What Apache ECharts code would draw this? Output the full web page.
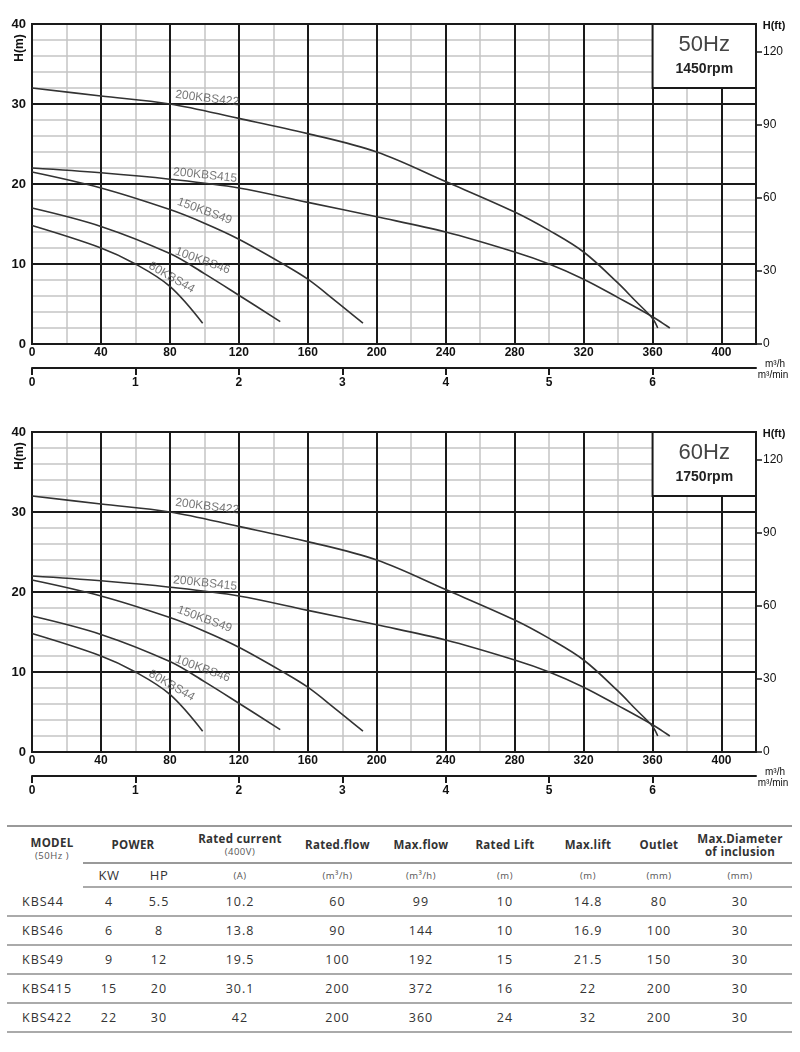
<!DOCTYPE html>
<html lang="en">
<head>
<meta charset="UTF-8">
<script src="https://cdn.jsdelivr.net/npm/echarts@6/dist/echarts.min.js"></script>
<title>KBS pump curves</title>
<style>
    body { margin: 0; background: #fff; }
    #chart { width: 800px; height: 810px; }
    #specTable {
        position: absolute; left: 7px; top: 825px; width: 785px;
        border-collapse: collapse; table-layout: fixed;
        font-family: "Open Sans", "DejaVu Sans", sans-serif; color: #333;
        border-top: 2px solid #999;
    }
    #specTable th, #specTable td { text-align: center; padding: 0; letter-spacing: 1px; }
    #specTable th { font-size: 11.5px; font-weight: bold; line-height: 13px; height: 35px; border-bottom: 2px solid #999; letter-spacing: 0.3px; }
    #specTable th.model { border-bottom: none; }
    #specTable th small { display: block; font-size: 9.5px; font-weight: normal; color: #555; letter-spacing: 0.5px; }
    #specTable tr.units td { height: 22px; font-size: 9.5px; color: #555; border-bottom: 2px solid #aaa; letter-spacing: 0.5px; }
    #specTable tr.units td.big { font-size: 13px; color: #333; }
    #specTable tr.row td { height: 27px; font-size: 12.5px; border-bottom: 2px solid #aaa; }
    #specTable td.name { text-align: left; padding-left: 15px; }
</style>
</head>
<body>
<div id="chart"></div>
<table id="specTable"></table>
<script>

    // Q-H curves, [flow m3/h, head m]
    var curveNames = ['200KBS422', '200KBS415', '150KBS49', '100KBS46', '80KBS44'];
    var curve422 = [[0, 32], [40, 31], [80, 30], [120, 28.2], [160, 26.3], [200, 24.0], [240, 20.3], [280, 16.5], [300, 14.2], [320, 11.5], [340, 7.6], [350, 5.4], [360, 3.2], [363, 2.0]];
    var curve415 = [[0, 22], [40, 21.4], [80, 20.6], [120, 19.5], [160, 17.7], [200, 15.9], [240, 14.0], [280, 11.5], [300, 10.0], [320, 8.1], [340, 5.8], [360, 3.4], [370, 2.0]];
    var curve49 = [[0, 21.5], [40, 19.5], [80, 16.8], [100, 15.1], [120, 13.1], [146.5, 9.9], [160, 8.1], [176, 5.4], [192, 2.6]];
    var curve46 = [[0, 17], [40, 14.7], [80, 11.3], [100, 8.8], [120, 6.1], [144, 2.8]];
    var curve44 = [[0, 14.8], [40, 12.0], [60, 10.0], [80, 7.2], [99, 2.6]];
    var curves = [curve422, curve415, curve49, curve46, curve44];

    var panelHz = ['50Hz', '60Hz'];
    var panelRpm = ['1450rpm', '1750rpm'];

    // table data
    var tModel = ['KBS44', 'KBS46', 'KBS49', 'KBS415', 'KBS422'];
    var tKw = ['4', '6', '9', '15', '22'];
    var tHp = ['5.5', '8', '12', '20', '30'];
    var tCurrent = ['10.2', '13.8', '19.5', '30.1', '42'];
    var tRatedFlow = ['60', '90', '100', '200', '200'];
    var tMaxFlow = ['99', '144', '192', '372', '360'];
    var tRatedLift = ['10', '10', '15', '16', '24'];
    var tMaxLift = ['14.8', '16.9', '21.5', '22', '32'];
    var tOutlet = ['80', '100', '150', '200', '200'];
    var tDiameter = ['30', '30', '30', '30', '30'];

    // label placement on the curves (data coords + rotation)
    var labelPos = [[101.6, 30.7, -7], [100.4, 21.1, -6], [100.1, 16.6, -20], [99, 10.4, -20], [81, 8.3, -30]];

    var FT = 3.28084;
    var gridTops = [24, 432];
    var PLOT_W = 724, PLOT_H = 320;
    var black = '#1a1a1a';
    var labelFont = {fontSize: 12, fontWeight: 'bold', color: '#111', fontFamily: 'Arial'};

    var Chart_Main = echarts.init(document.getElementById('chart'));

    var grids = [], xAxes = [], yAxes = [], series = [], graphics = [];

    function addX(o) { o.axisLine = Object.assign({onZero: false}, o.axisLine); xAxes.push(o); return xAxes.length - 1; }
    function addY(o) { o.axisLine = Object.assign({onZero: false}, o.axisLine); yAxes.push(o); return yAxes.length - 1; }

    for (var g = 0; g < 2; g++) {
        var gTop = gridTops[g];
        var gMain = grids.length;
        grids.push({left: 32, top: gTop, width: PLOT_W, height: PLOT_H, show: true, borderColor: black, borderWidth: 2});
        // ft scale: 120 ft sits below the 40 m top
        var ftOff = (40 - 120 / FT) * PLOT_H / 40;
        var gFt = grids.length;
        grids.push({left: 32, top: gTop + ftOff, width: PLOT_W, height: PLOT_H - ftOff});
        // m3/min ticks 0..6 (= 0..360 m3/h)
        var gMin = grids.length;
        grids.push({left: 32, top: gTop, width: PLOT_W * 360 / 420, height: PLOT_H});

        var xMain = addX({
            gridIndex: gMain, type: 'value', position: 'bottom', min: 0, max: 420, interval: 40, z: 1,
            axisLine: {show: true, lineStyle: {color: black, width: 2}},
            axisTick: {show: false},
            axisLabel: Object.assign({margin: 3, formatter: function (v) { return v > 400 ? '' : v; }}, labelFont),
            splitLine: {lineStyle: {color: black, width: 2}}
        });
        addX({
            gridIndex: gMain, type: 'value', position: 'top', min: 0, max: 420, interval: 20, z: 0,
            axisLine: {show: false}, axisTick: {show: false}, axisLabel: {show: false},
            splitLine: {lineStyle: {color: '#c4c4c4', width: 1.5}}
        });
        addX({
            gridIndex: gMain, type: 'value', position: 'bottom', offset: 24, min: 0, max: 420, z: 1,
            axisLine: {show: true, lineStyle: {color: black, width: 2}},
            axisTick: {show: false}, axisLabel: {show: false}, splitLine: {show: false}
        });
        var yMain = addY({
            gridIndex: gMain, type: 'value', position: 'left', min: 0, max: 40, interval: 10, z: 1,
            axisLine: {show: false}, axisTick: {show: false},
            axisLabel: Object.assign({margin: 6}, labelFont, {fontSize: 13}),
            splitLine: {lineStyle: {color: black, width: 2}}
        });
        addY({
            gridIndex: gMain, type: 'value', position: 'left', min: 0, max: 40, interval: 2, z: 0,
            axisLine: {show: false}, axisTick: {show: false}, axisLabel: {show: false},
            splitLine: {lineStyle: {color: '#c4c4c4', width: 1.5}}
        });

        addX({gridIndex: gFt, type: 'value', show: false, min: 0, max: 420});
        addY({
            gridIndex: gFt, type: 'value', position: 'right', min: 0, max: 120, interval: 30, z: 1,
            axisLine: {show: false},
            axisTick: {show: true, length: 6, lineStyle: {color: black, width: 1.5}},
            axisLabel: {margin: 7, fontSize: 12, color: '#111', fontFamily: 'Arial'},
            splitLine: {show: false}
        });

        addX({
            gridIndex: gMin, type: 'value', position: 'bottom', offset: 24, min: 0, max: 6, interval: 1, z: 1,
            axisLine: {show: false},
            axisTick: {show: true, length: 7, lineStyle: {color: black, width: 2}},
            axisLabel: Object.assign({margin: 9}, labelFont),
            splitLine: {show: false}
        });
        addY({gridIndex: gMin, type: 'value', show: false, min: 0, max: 40});

        for (var i = 0; i < curves.length; i++) {
            var s = {
                name: curveNames[i] + (g ? ' 60Hz' : ' 50Hz'),
                type: 'line', xAxisIndex: xMain, yAxisIndex: yMain,
                data: curves[i], smooth: 0.35, showSymbol: false, z: 5,
                lineStyle: {color: '#333', width: 1.6}
            };
            if (i === 0) {
                s.markArea = {
                    silent: true,
                    itemStyle: {color: '#fff', opacity: 1, borderColor: black, borderWidth: 2},
                    label: {
                        show: true, position: 'inside',
                        formatter: '{a|' + panelHz[g] + '}\n{b|' + panelRpm[g] + '}',
                        rich: {
                            a: {fontSize: 22, color: '#444', fontFamily: 'Arial', lineHeight: 26},
                            b: {fontSize: 14, color: '#222', fontWeight: 'bold', fontFamily: 'Arial', lineHeight: 22}
                        }
                    },
                    data: [[{coord: [360, 32]}, {coord: [420, 40]}]]
                };
            }
            series.push(s);
        }

        var labelData = [];
        for (var k = 0; k < curveNames.length; k++) {
            labelData.push({
                value: [labelPos[k][0], labelPos[k][1]],
                label: {show: true, position: 'inside', formatter: curveNames[k], rotate: labelPos[k][2],
                    color: '#555', fontSize: 12, fontFamily: 'Arial'}
            });
        }
        series.push({
            type: 'scatter', xAxisIndex: xMain, yAxisIndex: yMain, symbolSize: 1, silent: true, z: 6,
            itemStyle: {color: 'rgba(0,0,0,0)'},
            data: labelData
        });

        graphics.push({type: 'text', x: 20, y: gTop + 24, rotation: Math.PI / 2,
            style: {text: 'H(m)', font: 'bold 12px Arial', fill: '#111', textAlign: 'center', textVerticalAlign: 'middle'}});
        graphics.push({type: 'text', x: 774, y: gTop + 2,
            style: {text: 'H(ft)', font: 'bold 11px Arial', fill: '#111', textAlign: 'center', textVerticalAlign: 'middle'}});
        graphics.push({type: 'text', x: 775, y: gTop + 340,
            style: {text: 'm³/h', font: '10px Arial', fill: '#111', textAlign: 'center', textVerticalAlign: 'middle'}});
        graphics.push({type: 'text', x: 773, y: gTop + 351,
            style: {text: 'm³/min', font: '10px Arial', fill: '#111', textAlign: 'center', textVerticalAlign: 'middle'}});
    }

    var option = {
        animation: false,
        grid: grids,
        xAxis: xAxes,
        yAxis: yAxes,
        series: series,
        graphic: graphics
    };
    Chart_Main.setOption(option);

    // spec table
    var html = '<colgroup>';
    var widths = [76, 52, 48, 114, 81, 86, 82, 84, 58, 104];
    for (var w in widths) html += '<col style="width:' + widths[w] + 'px">';
    html += '</colgroup>';
    html += '<tr><th class="model" rowspan="2" style="vertical-align:top;padding-top:9px;padding-left:14px">MODEL<small>(50Hz )</small></th>' +
        '<th colspan="2">POWER</th>' +
        '<th>Rated current<small>(400V)</small></th>' +
        '<th>Rated.flow</th><th>Max.flow</th><th>Rated Lift</th><th>Max.lift</th><th>Outlet</th>' +
        '<th>Max.Diameter<br>of inclusion</th></tr>';
    html += '<tr class="units"><td class="big">KW</td><td class="big">HP</td><td>(A)</td><td>(m³/h)</td><td>(m³/h)</td>' +
        '<td>(m)</td><td>(m)</td><td>(mm)</td><td>(mm)</td></tr>';
    for (var r = 0; r < tModel.length; r++) {
        html += '<tr class="row"><td class="name">' + tModel[r] + '</td><td>' + tKw[r] + '</td><td>' + tHp[r] +
            '</td><td>' + tCurrent[r] + '</td><td>' + tRatedFlow[r] + '</td><td>' + tMaxFlow[r] +
            '</td><td>' + tRatedLift[r] + '</td><td>' + tMaxLift[r] + '</td><td>' + tOutlet[r] +
            '</td><td>' + tDiameter[r] + '</td></tr>';
    }
    document.getElementById('specTable').innerHTML = html;

</script>
</body>
</html>
